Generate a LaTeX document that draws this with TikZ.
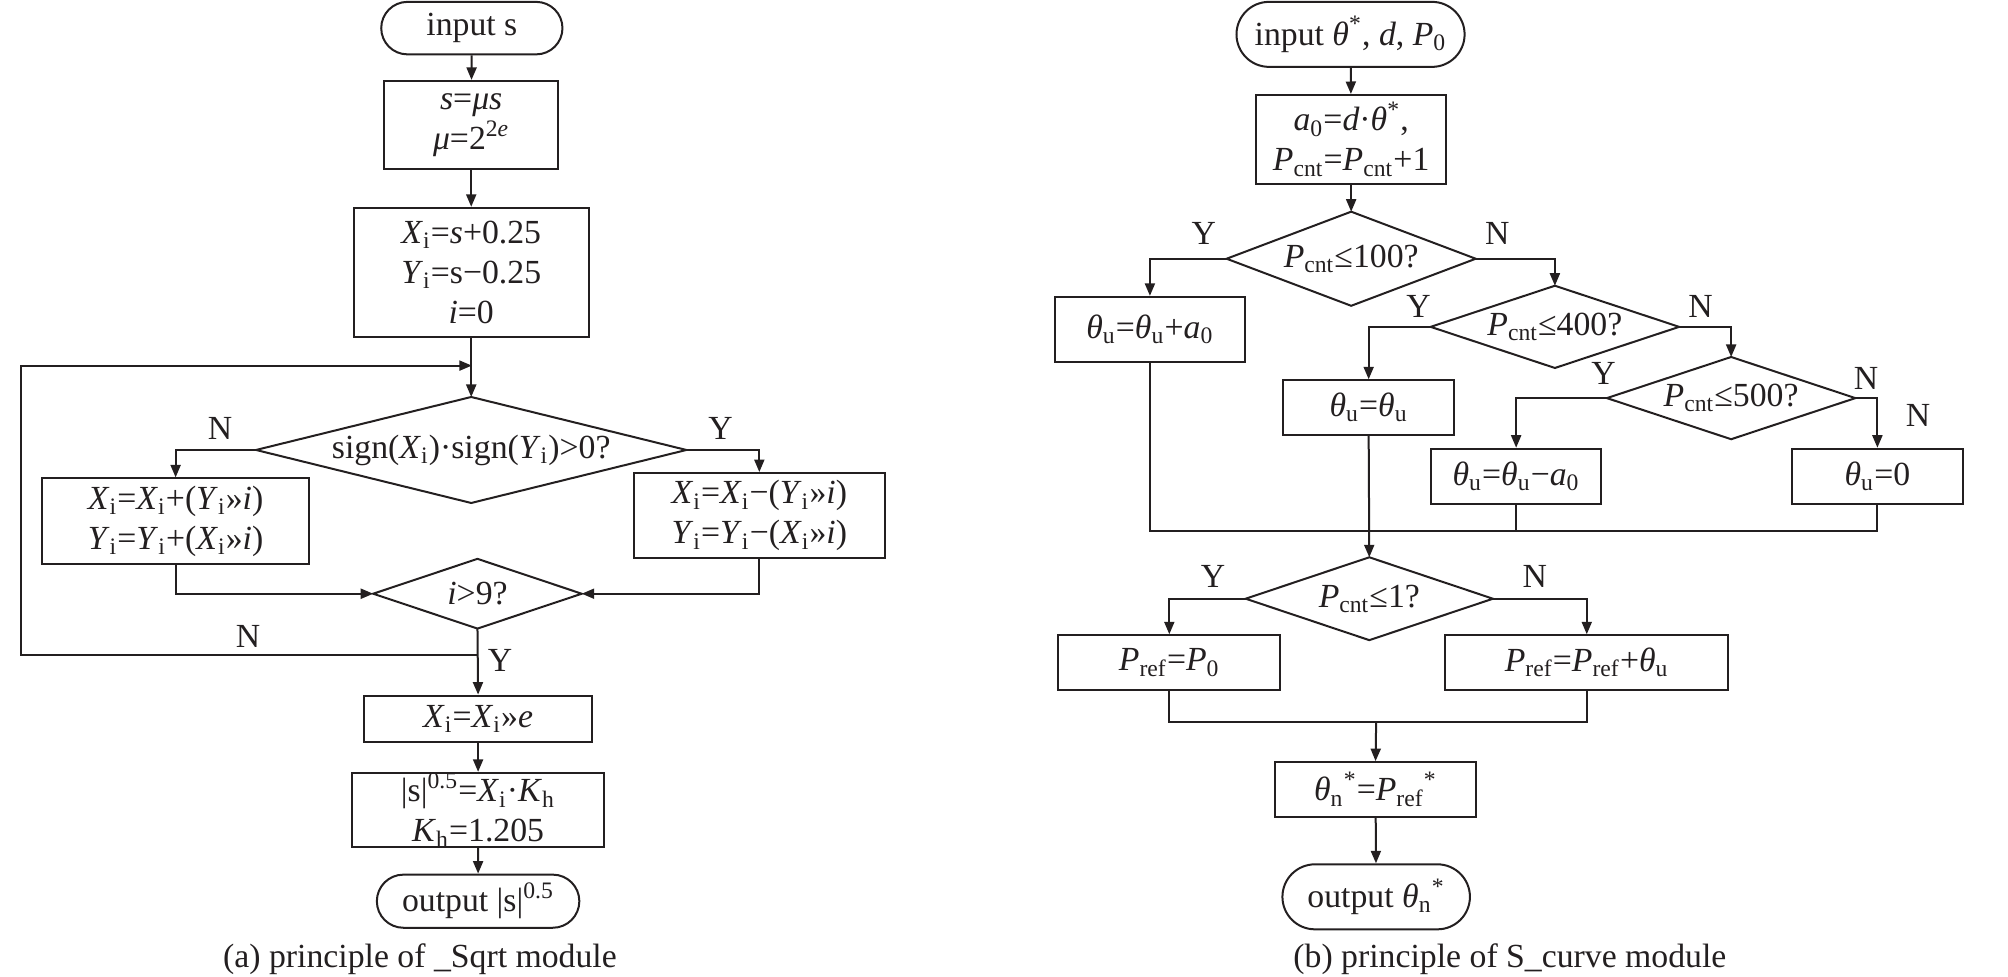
\documentclass[tikz,border=0pt]{standalone}
\usepackage{fontspec}
\setmainfont{Liberation Serif}
\usetikzlibrary{arrows.meta,shapes.misc}
\newcommand\sbs[1]{\textsubscript{#1}}
\newcommand\sps[1]{\textsuperscript{#1}}
\newcommand\I[1]{\textit{#1}}
\def\u{0.25pt}
\definecolor{ink}{HTML}{231F20}
\tikzset{
  every node/.style={font=\fontsize{13.5}{16}\selectfont, text=ink, align=center, inner sep=0pt},
  box/.style={draw=ink, line width=0.8pt, rectangle},
  term/.style={draw=ink, line width=0.8pt, rounded rectangle},
  dia/.style={rectangle},
  ln/.style={draw=ink, line width=0.8pt},
  arr/.style={ln, -{Triangle[length=5pt,width=4pt]}},
  lab/.style={font=\fontsize{13.5}{16}\selectfont}
}
\newcommand\diam[1]{\draw[ln] (#1.west)--(#1.north)--(#1.east)--(#1.south)--cycle;}
\begin{document}
\begin{tikzpicture}[x=0.25pt,y=-0.25pt]
\useasboundingbox (0,0) rectangle (3213,1563);
% ---------------- left ----------------
\node[term, minimum width=290*\u, minimum height=84*\u] (in) at (755,45) {input s};
\node[box, minimum width=279*\u, minimum height=141*\u] (b1) at (754,200) {\I{s}=\I{μs}\\\I{μ}=2\sps{2\I{e}}};
\node[box, minimum width=376*\u, minimum height=207*\u] (b2) at (754,436) {\I{X}\sbs{i}=\I{s}+0.25\\\I{Y}\sbs{i}=s−0.25\\\I{i}=0};
\node[dia, minimum width=687*\u, minimum height=168*\u] (d1) at (754,720) {sign(\I{X}\sbs{i})·sign(\I{Y}\sbs{i})>0?};
\diam{d1}
\node[box, minimum width=428*\u, minimum height=137*\u] (bL) at (281,834) {\I{X}\sbs{i}=\I{X}\sbs{i}+(\I{Y}\sbs{i}>>\I{i})\\\I{Y}\sbs{i}=\I{Y}\sbs{i}+(\I{X}\sbs{i}>>\I{i})};
\node[box, minimum width=402*\u, minimum height=136*\u] (bR) at (1215,825) {\I{X}\sbs{i}=\I{X}\sbs{i}−(\I{Y}\sbs{i}>>\I{i})\\\I{Y}\sbs{i}=\I{Y}\sbs{i}−(\I{X}\sbs{i}>>\I{i})};
\node[dia, minimum width=332*\u, minimum height=110*\u] (d2) at (764,950) {\I{i}>9?};
\diam{d2}
\node[box, minimum width=366*\u, minimum height=74*\u] (b3) at (765,1150) {\I{X}\sbs{i}=\I{X}\sbs{i}>>\I{e}};
\node[box, minimum width=404*\u, minimum height=113*\u] (b4) at (765,1296) {|s|\sps{0.5}=\I{X}\sbs{i}·\I{K}\sbs{h}\\\I{K}\sbs{h}=1.205};
\node[term, minimum width=324*\u, minimum height=85*\u] (out) at (765,1442) {output |s|\sps{0.5}};
\node (capa) at (672,1535) {(a) principle of \_Sqrt module};
\coordinate (j) at (764,1048);
\coordinate (c1) at (33,1048);
\coordinate (m1) at (755,585);
\draw[arr] (in) -- (b1);
\draw[arr] (b1) -- (b2);
\draw[arr] (b2) -- (d1.north);
\draw[arr] (j) -- (c1) |- (m1);
\draw[arr] (d1.west) -| (bL.north);
\draw[arr] (d1.east) -| (bR.north);
\draw[arr] (bL.south) |- (d2.west);
\draw[arr] (bR.south) |- (d2.east);
\draw[arr] (d2.south) -- (b3.north);
\draw[arr] (b3) -- (b4);
\draw[arr] (b4) -- (out);
\node[lab] (l1) at (352,685) {N};
\node[lab] (l2) at (1153,685) {Y};
\node[lab] (l3) at (397,1018) {N};
\node[lab] (l4) at (800,1057) {Y};
% ---------------- right ----------------
\begin{scope}[xshift=1606*\u]
\node[term, minimum width=365*\u, minimum height=104*\u] (rin) at (555,55) {input \I{θ}\sps{*}, \I{d}, \I{P}\sbs{0}};
\node[box, minimum width=304*\u, minimum height=142*\u] (rb1) at (556,223) {\I{a}\sbs{0}=\I{d}·\I{θ}\sps{*},\\\I{P}\sbs{cnt}=\I{P}\sbs{cnt}+1};
\node[dia, minimum width=397*\u, minimum height=149*\u] (rd1) at (556,414) {\I{P}\sbs{cnt}≤100?};
\diam{rd1}
\node[box, minimum width=303*\u, minimum height=104*\u] (bA) at (234,527) {\I{θ}\sbs{u}=\I{θ}\sbs{u}+\I{a}\sbs{0}};
\node[dia, minimum width=396*\u, minimum height=130*\u] (rd2) at (882,523) {\I{P}\sbs{cnt}≤400?};
\diam{rd2}
\node[box, minimum width=273*\u, minimum height=87*\u] (bB) at (584,652) {\I{θ}\sbs{u}=\I{θ}\sbs{u}};
\node[dia, minimum width=396*\u, minimum height=130*\u] (rd3) at (1164,637) {\I{P}\sbs{cnt}≤500?};
\diam{rd3}
\node[box, minimum width=272*\u, minimum height=88*\u] (bC) at (820,762) {\I{θ}\sbs{u}=\I{θ}\sbs{u}−\I{a}\sbs{0}};
\node[box, minimum width=273*\u, minimum height=88*\u] (bD) at (1398,762) {\I{θ}\sbs{u}=0};
\node[dia, minimum width=394*\u, minimum height=131*\u] (rd4) at (585,958) {\I{P}\sbs{cnt}≤1?};
\diam{rd4}
\node[box, minimum width=355*\u, minimum height=87*\u] (bE) at (265,1060) {\I{P}\sbs{ref}=\I{P}\sbs{0}};
\node[box, minimum width=453*\u, minimum height=87*\u] (bF) at (933,1060) {\I{P}\sbs{ref}=\I{P}\sbs{ref}+\I{θ}\sbs{u}};
\node[box, minimum width=321*\u, minimum height=87*\u] (rb5) at (595,1263) {\I{θ}\sbs{n}\sps{*}=\I{P}\sbs{ref}\sps{*}};
\node[term, minimum width=300*\u, minimum height=104*\u] (rout) at (596,1435) {output \I{θ}\sbs{n}\sps{*}};
\node (capb) at (810,1535) {(b) principle of S\_curve module};
\coordinate (m) at (584,850);
\coordinate (m2) at (596,1155);
\draw[arr] (rin) -- (rb1);
\draw[arr] (rb1) -- (rd1.north);
\draw[arr] (rd1.west) -| (bA.north);
\draw[arr] (rd1.east) -| (rd2.north);
\draw[arr] (rd2.west) -| (bB.north);
\draw[arr] (rd2.east) -| (rd3.north);
\draw[arr] (rd3.west) -| (bC.north);
\draw[arr] (rd3.east) -| (bD.north);
\draw[ln] (bA.south) |- (m);
\draw[ln] (bD.south) |- (m);
\draw[ln] (bC.south) -- (bC.south |- m);
\draw[arr] (bB.south) -- (rd4.north);
\draw[arr] (rd4.west) -| (bE.north);
\draw[arr] (rd4.east) -| (bF.north);
\draw[ln] (bE.south) |- (m2);
\draw[ln] (bF.south) |- (m2);
\draw[arr] (m2) -- (rb5.north);
\draw[arr] (rb5) -- (rout);
\node[lab] (r1) at (320,373) {Y};
\node[lab] (r2) at (790,373) {N};
\node[lab] (r3) at (664,490) {Y};
\node[lab] (r4) at (1115,490) {N};
\node[lab] (r5) at (960,598) {Y};
\node[lab] (r6) at (1380,605) {N};
\node[lab] (r7) at (1463,665) {N};
\node[lab] (r8) at (335,922) {Y};
\node[lab] (r9) at (850,922) {N};
\end{scope}
\end{tikzpicture}
\end{document}
